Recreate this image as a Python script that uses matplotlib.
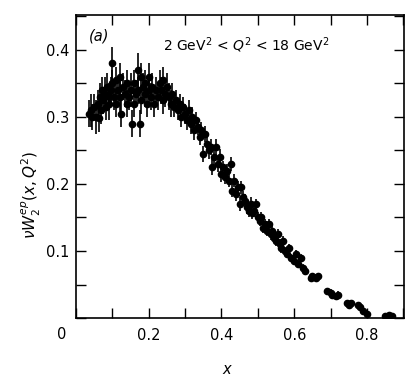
import matplotlib
matplotlib.use("Agg")
import matplotlib.pyplot as plt
from matplotlib.ticker import MultipleLocator, FixedLocator

# data (x, nuW2, error)
x_vals = [0.035,0.04,0.045,0.05,0.055,0.06,0.062,0.065,0.07,0.072,0.075,0.08,0.082,0.085,0.09,0.092,0.095,
          0.10,0.10,0.105,0.11,0.11,0.115,0.12,0.12,0.125,0.13,0.135,0.14,0.14,0.145,0.15,0.155,0.16,0.16,
          0.165,0.17,0.17,0.175,0.18,0.18,0.185,0.19,0.19,0.195,0.20,0.20,0.205,0.21,0.215,0.22,0.225,0.23,
          0.235,0.24,0.24,0.245,0.25,0.255,0.26,0.265,0.27,0.275,0.28,0.285,0.29,0.295,0.30,0.305,0.31,0.315,
          0.32,0.325,0.33,0.335,0.34,0.345,0.35,0.355,0.36,0.365,0.37,0.375,0.38,0.385,0.39,0.395,0.40,0.405,
          0.41,0.415,0.42,0.425,0.43,0.435,0.44,0.445,0.45,0.455,0.46,0.465,0.47,0.475,0.48,0.485,0.49,0.495,
          0.50,0.505,0.51,0.515,0.52,0.525,0.53,0.535,0.54,0.545,0.55,0.555,0.56,0.565,0.57,0.575,0.58,0.585,
          0.59,0.60,0.605,0.61,0.62,0.625,0.63,0.645,0.65,0.66,0.665,0.69,0.70,0.705,0.715,0.72,0.745,0.75,
          0.755,0.775,0.78,0.79,0.80,0.85,0.86,0.87]
y_vals = [0.305,0.31,0.30,0.315,0.30,0.32,0.298,0.33,0.31,0.34,0.325,0.335,0.315,0.345,0.33,0.32,0.34,
          0.38,0.35,0.33,0.355,0.32,0.34,0.33,0.36,0.305,0.345,0.335,0.35,0.32,0.33,0.34,0.29,0.35,0.32,
          0.335,0.37,0.34,0.29,0.36,0.325,0.345,0.335,0.35,0.32,0.34,0.36,0.33,0.345,0.32,0.34,0.33,0.35,
          0.34,0.355,0.325,0.335,0.345,0.33,0.32,0.335,0.315,0.325,0.31,0.32,0.30,0.315,0.305,0.295,0.31,0.29,
          0.30,0.28,0.295,0.285,0.27,0.28,0.245,0.275,0.26,0.25,0.255,0.225,0.24,0.255,0.23,0.24,0.215,0.225,
          0.21,0.22,0.205,0.23,0.19,0.205,0.185,0.195,0.17,0.195,0.18,0.175,0.165,0.16,0.17,0.157,0.16,0.17,
          0.15,0.145,0.15,0.135,0.14,0.13,0.14,0.125,0.13,0.12,0.115,0.125,0.11,0.105,0.115,0.10,0.095,0.105,
          0.09,0.085,0.095,0.08,0.09,0.075,0.07,0.06,0.062,0.06,0.062,0.04,0.038,0.035,0.033,0.035,0.022,0.02,
          0.022,0.02,0.016,0.01,0.006,0.003,0.004,0.003]
y_errs = [0.02,0.025,0.02,0.02,0.025,0.02,0.02,0.02,0.02,0.02,0.02,0.025,0.02,0.02,0.02,0.025,0.02,
          0.025,0.02,0.02,0.02,0.02,0.02,0.025,0.02,0.02,0.02,0.02,0.02,0.02,0.02,0.025,0.02,0.02,0.02,
          0.02,0.025,0.02,0.02,0.02,0.02,0.02,0.02,0.02,0.02,0.02,0.02,0.02,0.02,0.02,0.02,0.02,0.02,
          0.02,0.02,0.02,0.02,0.02,0.02,0.02,0.015,0.015,0.015,0.015,0.015,0.015,0.015,0.015,0.015,0.015,0.015,
          0.015,0.015,0.012,0.012,0.012,0.012,0.012,0.012,0.012,0.012,0.012,0.012,0.012,0.012,0.012,0.012,0.012,0.01,
          0.01,0.01,0.01,0.01,0.01,0.01,0.01,0.01,0.01,0.01,0.01,0.01,0.01,0.01,0.01,0.01,0.01,0.008,
          0.008,0.008,0.008,0.008,0.008,0.008,0.008,0.008,0.008,0.008,0.008,0.008,0.008,0.008,0.008,0.006,0.006,0.006,
          0.006,0.006,0.006,0.006,0.006,0.006,0.006,0.005,0.005,0.005,0.005,0.005,0.005,0.005,0.005,0.005,0.004,0.004,
          0.004,0.004,0.004,0.004,0.003,0.003,0.003,0.003]
x_err = 0.006

x_major = [0.0, 0.2, 0.4, 0.6, 0.8]
x_labels = ["", "0.2", "0.4", "0.6", "0.8"]
y_major = [0.1, 0.2, 0.3, 0.4]
y_labels = ["0.1", "0.2", "0.3", "0.4"]

plt.rcParams['font.family'] = ['DejaVu Sans']
fig = plt.figure(figsize=(4.2, 3.82), dpi=100)
ax = fig.add_axes([0.181, 0.1675, 0.781, 0.793])

ax.errorbar(x_vals, y_vals, yerr=y_errs, xerr=x_err, fmt='o', color='black',
            ms=4.5, elinewidth=1.2, capsize=0, mec='black', mfc='black')

ax.set_xlim(0, 0.902)
ax.set_ylim(0, 0.452)
ax.xaxis.set_major_locator(FixedLocator(x_major))
ax.set_xticklabels(x_labels)
ax.xaxis.set_minor_locator(MultipleLocator(0.1))
ax.yaxis.set_major_locator(FixedLocator(y_major))
ax.set_yticklabels(y_labels)
ax.yaxis.set_minor_locator(MultipleLocator(0.05))
ax.tick_params(which='both', direction='in', top=True, right=True, length=7, width=1.0,
               labelsize=10.5)
ax.tick_params(axis='x', pad=7)
ax.tick_params(axis='y', pad=5)
for s in ax.spines.values():
    s.set_linewidth(1.2)

ax.text(-0.045, -0.055, "0", transform=ax.transAxes, ha='center', va='center', fontsize=10.5)
ax.text(0.07, 0.93, "(a)", transform=ax.transAxes, fontsize=10.5, style='italic',
        ha='center', va='center')
ax.text(0.265, 0.9, r"2 GeV$^2$ < $Q^2$ < 18 GeV$^2$", transform=ax.transAxes,
        fontsize=10, ha='left', va='center')
ax.text(-0.135, 0.405, r"$\nu W_2^{ep}(x,Q^2)$", transform=ax.transAxes, rotation=90,
        ha='center', va='center', fontsize=11)
ax.text(0.46, -0.17, "x", transform=ax.transAxes, style='italic', ha='center', va='center',
        fontsize=10.5)

fig.savefig("out.png", dpi=100)
